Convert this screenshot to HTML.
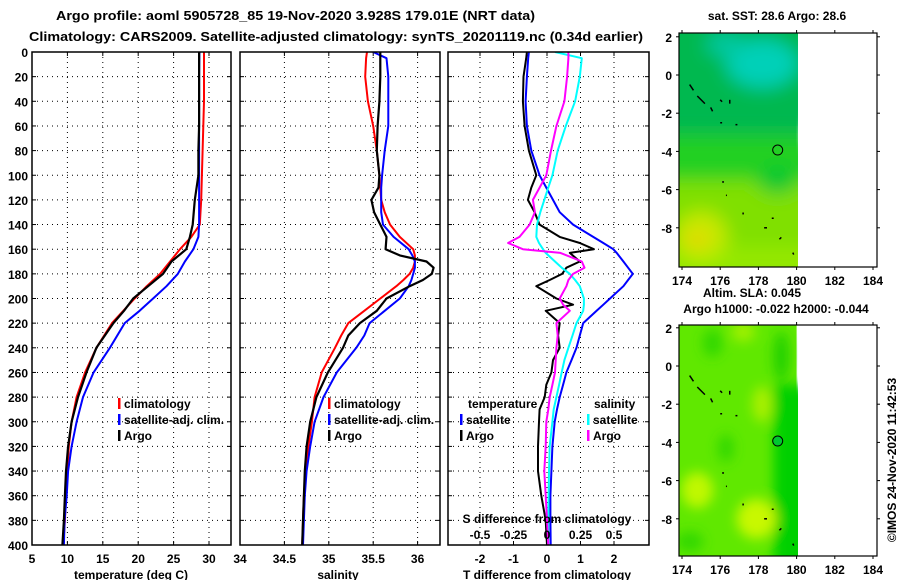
<!DOCTYPE html>
<html><head><meta charset="utf-8">
<style>
html,body{margin:0;padding:0;background:#fff;}
svg{display:block;font-family:"Liberation Sans",sans-serif;font-weight:bold;}
text{font-size:12px;fill:#000;}
</style></head>
<body>
<svg id="chart" width="900" height="580" viewBox="0 0 900 580" xmlns="http://www.w3.org/2000/svg">
<defs>
<clipPath id="c1"><rect x="32" y="52" width="199" height="493"/></clipPath>
<clipPath id="c2"><rect x="240" y="52" width="200" height="493"/></clipPath>
<clipPath id="c3"><rect x="448" y="52" width="201" height="493"/></clipPath>
<clipPath id="m1"><rect x="679" y="33" width="119" height="234"/></clipPath>
<clipPath id="m2"><rect x="679" y="325" width="119" height="231"/></clipPath>
<filter id="blur1" x="-50%" y="-50%" width="200%" height="200%"><feGaussianBlur stdDeviation="9"/></filter>
<filter id="blur2" x="-50%" y="-50%" width="200%" height="200%"><feGaussianBlur stdDeviation="6"/></filter>
</defs>
<text x="56" y="20" textLength="479" lengthAdjust="spacingAndGlyphs" style="font-size:13px">Argo profile: aoml 5905728_85 19-Nov-2020 3.928S 179.01E (NRT data)</text>
<text x="29" y="41" textLength="614" lengthAdjust="spacingAndGlyphs" style="font-size:13px">Climatology: CARS2009. Satellite-adjusted climatology: synTS_20201119.nc (0.34d earlier)</text>
<g id="grids"></g>
<g id="series"></g>
<g id="frames"></g>
<g id="labels"></g>
<g id="maps"></g>
</svg>
<script>
// ---- data ----
const tempDepths = [0,20,40,60,80,100,120,140,150,160,170,180,190,200,210,220,240,260,280,300,320,340,360,380,400];
const tempClim = [29.3,29.3,29.3,29.2,29.1,29.0,28.9,28.7,27.5,25.9,24.5,23.1,21.2,19.5,17.9,16.3,14.1,12.5,11.3,10.6,10.2,10.0,9.8,9.65,9.4];
const tempSat  = [28.65,28.6,28.6,28.6,28.6,28.6,28.6,28.6,28.5,27.8,26.6,25.6,24.0,22.1,20.2,18.1,16.0,13.7,12.2,11.3,10.6,10.1,9.9,9.6,9.5];
const tempArgo = [28.6,28.6,28.6,28.6,28.5,28.5,28.0,27.7,27.3,26.8,24.7,23.5,21.4,19.3,18.0,16.5,14.1,12.7,11.5,10.6,10.1,9.8,9.65,9.5,9.3];

const salDepths = [0,5,20,40,60,80,100,110,120,130,140,150,160,165,170,175,180,185,190,200,210,220,230,240,260,280,300,320,340,360,380,400];
const salClim = [35.43,35.42,35.41,35.44,35.50,35.54,35.57,35.58,35.59,35.63,35.69,35.80,35.95,35.97,35.97,35.95,35.91,35.84,35.76,35.58,35.40,35.22,35.14,35.07,34.92,34.84,34.81,34.77,34.74,34.72,34.71,34.70];
const salSat  = [35.50,35.65,35.67,35.67,35.67,35.63,35.60,35.59,35.59,35.59,35.61,35.73,35.90,35.94,35.97,35.97,35.95,35.93,35.90,35.80,35.63,35.46,35.40,35.31,35.09,34.94,34.84,34.79,34.75,34.73,34.72,34.71];
const salArgo = [35.58,35.58,35.58,35.57,35.55,35.54,35.57,35.56,35.48,35.51,35.58,35.65,35.64,35.80,36.10,36.18,36.16,36.06,35.91,35.65,35.54,35.35,35.22,35.16,34.99,34.86,34.79,34.75,34.73,34.72,34.71,34.70];

const diffDepths = [0,5,20,40,60,80,100,110,120,130,140,150,155,160,163,170,175,180,185,190,200,205,210,220,230,240,250,260,270,280,290,300,320,340,360,380,400];
const dTSat  = [-0.54,-0.56,-0.6,-0.64,-0.6,-0.47,-0.22,-0.02,0.18,0.38,0.78,1.38,1.68,1.98,2.08,2.28,2.42,2.56,2.42,2.28,1.88,1.68,1.48,1.08,0.98,0.88,0.73,0.58,0.48,0.38,0.30,0.23,0.16,0.13,0.10,0.10,0.11];
const dTArgo = [-0.6,-0.62,-0.7,-0.72,-0.67,-0.54,-0.32,-0.47,-0.57,-0.37,-0.22,0.38,0.98,1.4,0.68,0.98,0.58,0.45,0.08,-0.32,0.28,0.78,-0.04,0.38,0.33,0.38,0.18,0.13,-0.02,-0.07,-0.22,-0.24,-0.27,-0.27,-0.17,-0.04,0];
const dSSat  = [0.06,0.26,0.245,0.21,0.14,0.08,0.04,0.01,-0.02,-0.05,-0.075,-0.08,-0.06,-0.03,-0.01,0.06,0.11,0.17,0.21,0.245,0.275,0.275,0.27,0.22,0.19,0.16,0.13,0.11,0.09,0.07,0.05,0.04,0.02,0.015,0.012,0.01,0.01];
const dSArgo = [0.16,0.16,0.15,0.13,0.07,0.03,-0.005,-0.055,-0.105,-0.09,-0.13,-0.205,-0.29,-0.18,0.10,0.26,0.28,0.195,0.16,0.145,0.095,0.12,0.17,0.07,0.08,0.07,0.065,0.06,0.04,0.02,0.01,-0.005,-0.01,-0.02,-0.01,0.0,0.01];

const depthTicks = [0,20,40,60,80,100,120,140,160,180,200,220,240,260,280,300,320,340,360,380,400];
const tempTicks = [5,10,15,20,25,30];
const salTicks = [34,34.5,35,35.5,36];
const salTickLabels = ["34","34.5","35","35.5","36"];
const dTTicks = [-2,-1,0,1,2];
const dSTicks = [-0.5,-0.25,0,0.25,0.5];
const dSTickLabels = ["-0.5","-0.25","0","0.25","0.5"];
const latTicks = [2,0,-2,-4,-6,-8];
const lonTicks = [174,176,178,180,182,184];
const argoLon = 179.01, argoLat = -3.928;

// ---- axes ----
const NS = "http://www.w3.org/2000/svg";
const yD = d => 52 + d * 493 / 400;
const xT = t => 32 + (t - 5) * 7.08;
const xS = s => 240 + (s - 34) * 88.8;
const xDT = t => 547 + t * 33.5;
const xDS = s => 547 + s * 134;
const mapX = lon => 682 + (lon - 174) * 19.1;
const mapY1 = lat => 75 + (0 - lat) * 19.1;
const mapY2 = lat => 366 + (0 - lat) * 19.1;

function mk(tag, attrs, parent){ const e=document.createElementNS(NS,tag); for(const k in attrs) e.setAttribute(k,attrs[k]); parent.appendChild(e); return e; }
const G = document.getElementById('grids'), S = document.getElementById('series'), F = document.getElementById('frames'), L = document.getElementById('labels'), M = document.getElementById('maps');

const panels = [
  {x0:32,x1:231,xs:tempTicks.map(xT),name:'temperature-panel'},
  {x0:240,x1:440,xs:salTicks.map(xS),name:'salinity-panel'},
  {x0:448,x1:649,xs:dTTicks.map(xDT),name:'difference-panel'}
];
panels.forEach(p=>{
  depthTicks.forEach(d=>{ if(d>0&&d<400){
    const ln=mk('line',{x1:p.x0,x2:p.x1,y1:yD(d),y2:yD(d),stroke:'#000','stroke-width':1,'stroke-dasharray':'1,4'},G);
    
    
    mk('line',{x1:p.x0,x2:p.x0+4,y1:yD(d),y2:yD(d),stroke:'#000'},G);
    mk('line',{x1:p.x1-4,x2:p.x1,y1:yD(d),y2:yD(d),stroke:'#000'},G);
  }});
  p.xs.forEach(x=>{ if(x>p.x0+1&&x<p.x1-1){
    const ln=mk('line',{x1:x,x2:x,y1:52,y2:545,stroke:'#000','stroke-width':1,'stroke-dasharray':'1,4'},G);
    
    
    mk('line',{x1:x,x2:x,y1:52,y2:56,stroke:'#000'},G);
    mk('line',{x1:x,x2:x,y1:541,y2:545,stroke:'#000'},G);
  }});
  const fr=mk('rect',{x:p.x0,y:52,width:p.x1-p.x0,height:493,fill:'none',stroke:'#000','stroke-width':1.5},F);
  
  
});

function series(depths, vals, xf, color, clip, name, w){
  const pts = depths.map((d,i)=>xf(vals[i]).toFixed(1)+','+yD(d).toFixed(1)).join(' ');
  const pl = mk('polyline',{points:pts,fill:'none',stroke:color,'stroke-width':w||2,'clip-path':'url(#'+clip+')','stroke-linejoin':'round'},S);
  
  
}
series(tempDepths,tempClim,xT,'#ff0000','c1','temperature-climatology-line');
series(tempDepths,tempSat,xT,'#0000ff','c1','temperature-satellite-line');
series(tempDepths,tempArgo,xT,'#000000','c1','temperature-argo-line',2.2);
series(salDepths,salClim,xS,'#ff0000','c2','salinity-climatology-line');
series(salDepths,salSat,xS,'#0000ff','c2','salinity-satellite-line');
series(salDepths,salArgo,xS,'#000000','c2','salinity-argo-line',2.2);
series(diffDepths,dTSat,xDT,'#0000ff','c3','t-diff-satellite-line');
series(diffDepths,dTArgo,xDT,'#000000','c3','t-diff-argo-line');
series(diffDepths,dSSat,xDS,'#00ffff','c3','s-diff-satellite-line');
series(diffDepths,dSArgo,xDS,'#ff00ff','c3','s-diff-argo-line');

function txt(x,y,s,anchor,name,extra){
  const t=mk('text',Object.assign({x:x,y:y,'text-anchor':anchor||'start'},extra||{}),L);
  t.textContent=s;
  
  
  return t;
}
depthTicks.forEach(d=>txt(28,yD(d)+5,String(d),'end','depth-tick-label'));
tempTicks.forEach(t=>txt(xT(t),563,String(t),'middle','temperature-tick-label'));
salTicks.forEach((s,i)=>txt(xS(s),563,salTickLabels[i],'middle','salinity-tick-label'));
dTTicks.forEach(t=>txt(xDT(t),563,String(t),'middle','t-diff-tick-label'));
dSTicks.forEach((s,i)=>txt(xDS(s),539,dSTickLabels[i],'middle','s-diff-tick-label'));
txt(131,579,'temperature (deg C)','middle','temperature-axis-title');
txt(338,579,'salinity','middle','salinity-axis-title');
txt(547,579,'T difference from climatology','middle','t-diff-axis-title');
txt(547,523,'S difference from climatology','middle','s-diff-axis-title');

function leg(x,y,color,label,name){
  const r=mk('rect',{x:x,y:y-10,width:2.5,height:11,fill:color},L);
  
  
  txt(x+6,y,label,'start',name);
}
leg(118,408,'#ff0000','climatology','temp-legend-climatology');
leg(118,424,'#0000ff','satellite-adj. clim.','temp-legend-satellite');
leg(118,440,'#000000','Argo','temp-legend-argo');
leg(328,408,'#ff0000','climatology','sal-legend-climatology');
leg(328,424,'#0000ff','satellite-adj. clim.','sal-legend-satellite');
leg(328,440,'#000000','Argo','sal-legend-argo');
txt(468,408,'temperature','start','diff-legend-temperature-header');
txt(594,408,'salinity','start','diff-legend-salinity-header');
leg(460,424,'#0000ff','satellite','diff-legend-t-satellite');
leg(460,440,'#000000','Argo','diff-legend-t-argo');
leg(587,424,'#00ffff','satellite','diff-legend-s-satellite');
leg(587,440,'#ff00ff','Argo','diff-legend-s-argo');

// ---- maps ----
function mapPanel(top,h,yf,clip,kind,circleFill){
  const g=mk('g',{'clip-path':'url(#'+clip+')'},M);
  
  
  const x0=679, x1=mapX(180);
  if(kind==='sst'){
    mk('rect',{x:x0,y:top,width:x1-x0,height:h,fill:'#10c040'},g);
    const b=mk('g',{filter:'url(#blur1)'},g);
    mk('rect',{x:x0-20,y:yf(-5.5),width:x1-x0+40,height:100,fill:'#80e000'},b);
    mk('rect',{x:x0-20,y:yf(-3.2),width:x1-x0+40,height:yf(-5.5)-yf(-3.2),fill:'#20d020'},b);
    mk('rect',{x:x0-20,y:top-20,width:x1-x0+40,height:yf(-3)-top+20,fill:'#00b850'},b);
    mk('ellipse',{cx:mapX(178.2),cy:yf(0.6),rx:36,ry:24,fill:'#00d0b8'},b);
    mk('ellipse',{cx:mapX(176.3),cy:yf(1.6),rx:20,ry:12,fill:'#00c8a0'},b);
    mk('ellipse',{cx:mapX(175),cy:yf(-8.5),rx:26,ry:26,fill:'#c8e800'},b);
    mk('ellipse',{cx:mapX(174.8),cy:yf(-8.7),rx:10,ry:8,fill:'#f0d000'},b);
    mk('ellipse',{cx:mapX(179),cy:yf(-5.5),rx:20,ry:14,fill:'#00c830'},b);
    mk('rect',{x:x0-20,y:yf(-9),width:x1-x0+40,height:40,fill:'#a8f000',opacity:0.5},b);
  } else {
    mk('rect',{x:x0,y:top,width:x1-x0,height:h,fill:'#60e800'},g);
    const b=mk('g',{filter:'url(#blur2)'},g);
    mk('rect',{x:mapX(178.8),y:yf(-1),width:40,height:200,fill:'#00d000'},b);
    mk('ellipse',{cx:mapX(179.2),cy:yf(0.5),rx:8,ry:25,fill:'#20d000'},b);
    mk('ellipse',{cx:mapX(176.3),cy:yf(-4.3),rx:8,ry:14,fill:'#30d800'},b);
    mk('ellipse',{cx:mapX(175.6),cy:yf(1.2),rx:10,ry:14,fill:'#30d800'},b);
    mk('ellipse',{cx:mapX(174.4),cy:yf(-9.2),rx:14,ry:10,fill:'#30d800'},b);
    mk('ellipse',{cx:mapX(177.9),cy:yf(-8),rx:20,ry:20,fill:'#c8f800'},b);
    mk('ellipse',{cx:mapX(174.8),cy:yf(-6.5),rx:16,ry:18,fill:'#c0f800'},b);
    mk('ellipse',{cx:mapX(178.2),cy:yf(-2),rx:10,ry:18,fill:'#a8f000'},b);
    mk('ellipse',{cx:mapX(177.2),cy:yf(1.8),rx:12,ry:10,fill:'#a0f000'},b);
  }
  // islands
  const isl=[[174.4,-0.5,174.6,-0.8],[174.8,-1.1,175.2,-1.5],[175.5,-1.7,175.6,-1.9],[176,-1.3,176.1,-1.4],[176.5,-1.3,176.5,-1.5],[176,-2.5,176.1,-2.5],[176.8,-2.6,176.9,-2.6],[176.1,-5.6,176.2,-5.6],[176.3,-6.3,176.35,-6.3],[177.2,-7.3,177.2,-7.2],[178.7,-7.5,178.8,-7.5],[178.3,-8,178.45,-8],[179.1,-8.6,179.2,-8.5],[179.8,-9.3,179.85,-9.4]];
  isl.forEach(a=>mk('line',{x1:mapX(a[0]),y1:yf(a[1]),x2:mapX(a[2]),y2:yf(a[3]),stroke:'#000','stroke-width':1.5},g));
  const c=mk('circle',{cx:mapX(argoLon),cy:yf(argoLat),r:5,fill:circleFill,stroke:'#000','stroke-width':1},M);
  
  
  const fr=mk('rect',{x:679,y:top,width:198,height:h,fill:'none',stroke:'#000','stroke-width':1.2},M);
  
  
  latTicks.forEach(l=>{
    mk('line',{x1:676,x2:679,y1:yf(l),y2:yf(l),stroke:'#000'},M);
    mk('line',{x1:877,x2:880,y1:yf(l),y2:yf(l),stroke:'#000'},M);
    txt(672,yf(l)+5,String(l),'end',kind+'-lat-tick-label');
  });
  lonTicks.forEach(l=>{
    mk('line',{x1:mapX(l),x2:mapX(l),y1:top-3,y2:top,stroke:'#000'},M);
    mk('line',{x1:mapX(l),x2:mapX(l),y1:top+h,y2:top+h+3,stroke:'#000'},M);
    txt(mapX(l),top+h+18,String(l),'middle',kind+'-lon-tick-label');
  });
}
mapPanel(33,234,mapY1,'m1','sst','none');
mapPanel(325,231,mapY2,'m2','sla','#00c830');
txt(777,20,'sat. SST: 28.6 Argo: 28.6','middle','sst-map-title');
txt(752,297,'Altim. SLA: 0.045','middle','sla-map-title');
txt(776,313,'Argo h1000: -0.022 h2000: -0.044','middle','sla-map-subtitle');
txt(0,0,'\u00A9IMOS 24-Nov-2020 11:42:53','middle','copyright-timestamp',{transform:'translate(896,460) rotate(-90)'});
</script>
</body></html>
